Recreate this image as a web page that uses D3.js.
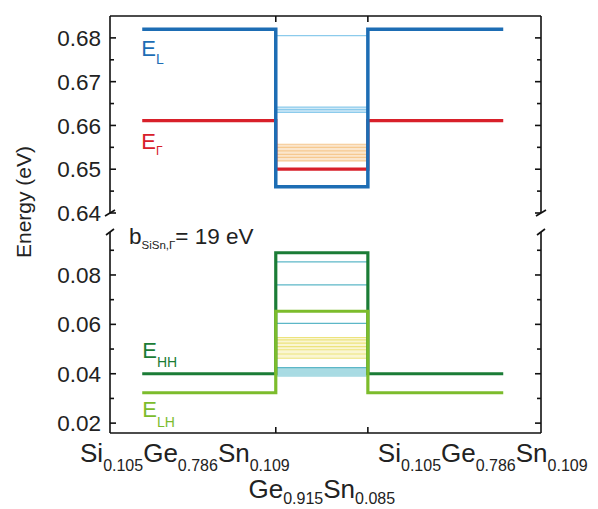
<!DOCTYPE html>
<html><head><meta charset="utf-8">
<script src="https://cdn.jsdelivr.net/npm/d3@7"></script>
<style>body{margin:0;background:#fff}svg{display:block}text{font-family:"Liberation Sans",Arial,Helvetica,sans-serif}</style>
</head><body>
<script>
// ---------- data ----------
const positions = [-14.5, 0, 10, 24.7];          // barrier start, well start, well end, barrier end (nm)
const E_L  = [0.682, 0.646];                     // [barrier, well]
const E_G  = [0.6611, 0.650];
const E_HH = [0.040, 0.089];
const E_LH = [0.0323, 0.0653];
const lightBlueLevels = [0.6805, 0.6642, 0.6636, 0.6630];
const orangeLevels = [0.6557, 0.6550, 0.6542, 0.6534, 0.6527, 0.6519];
const tealLevels = [0.0853, 0.0760, 0.0604, 0.0425];
const tealBandLevels = [0.0418, 0.0411, 0.0404, 0.0397, 0.0390];
const yellowLevels = [0.0547, 0.0537, 0.0524, 0.0510, 0.0497, 0.0480, 0.0463];
const topTicks = [0.64, 0.645, 0.65, 0.655, 0.66, 0.665, 0.67, 0.675, 0.68];
const topTickLabels = ["0.64", "0.65", "0.66", "0.67", "0.68"];
const botTicks = [0.02, 0.03, 0.04, 0.05, 0.06, 0.07, 0.08, 0.09];
const botTickLabels = ["0.02", "0.04", "0.06", "0.08"];
const barrierLabel = [["Si",0],["0.105",1],["Ge",0],["0.786",1],["Sn",0],["0.109",1]];
const wellLabel = [["Ge",0],["0.915",1],["Sn",0],["0.085",1]];

// ---------- layout ----------
const W = 598, H = 509;
const svg = d3.select("body").append("svg").attr("width", W).attr("height", H);
const x = d3.scaleLinear().domain([-18, 28.8]).range([110, 541]);
const yT = d3.scaleLinear().domain([0.64, 0.685]).range([213, 16]);
const yB = d3.scaleLinear().domain([0.016, 0.097]).range([433, 233]);
const X0 = x.range()[0], X1 = x.range()[1];

const C = {blue:"#1d6db4", lblue:"#8ccbec", red:"#d8202a", orange:"#f6c990",
  dgreen:"#1b7c36", lgreen:"#7cbc2c", teal:"#5db7c7", tealFill:"#a9dbe3", yellow:"#ece37c"};

// ---------- sub-band levels inside the well ----------
function levels(data, y, color, w) {
  svg.append("g").selectAll("line").data(data).join("line")
    .attr("x1", x(positions[1])).attr("x2", x(positions[2]))
    .attr("y1", d => y(d)).attr("y2", d => y(d))
    .attr("stroke", color).attr("stroke-width", w);
}
function band(lo, hi, y, color, op) {
  svg.append("rect").attr("x", x(positions[1])).attr("width", x(positions[2]) - x(positions[1]))
    .attr("y", y(hi)).attr("height", y(lo) - y(hi)).attr("fill", color).attr("opacity", op);
}
band(d3.min(orangeLevels), d3.max(orangeLevels), yT, "#fbe6cc", 1);
band(lightBlueLevels[3], lightBlueLevels[1], yT, "#cfe9f7", 1);
band(d3.min(yellowLevels), d3.max(yellowLevels), yB, "#faf6d2", 1);
band(d3.min(tealBandLevels), tealLevels[3], yB, C.tealFill, 1);
levels(orangeLevels, yT, C.orange, 1.1);
levels(lightBlueLevels, yT, C.lblue, 1.3);
levels(yellowLevels, yB, C.yellow, 1.1);
levels(tealBandLevels, yB, C.tealFill, 1.2);
levels(tealLevels, yB, C.teal, 1.3);

// ---------- band edges ----------
const line = d3.line();
function edge(E, y, color, w) {
  const p = [[x(positions[0]), y(E[0])], [x(positions[1]), y(E[0])], [x(positions[1]), y(E[1])],
             [x(positions[2]), y(E[1])], [x(positions[2]), y(E[0])], [x(positions[3]), y(E[0])]];
  svg.append("path").attr("d", line(p)).attr("fill", "none").attr("stroke", color)
    .attr("stroke-width", w).attr("stroke-linejoin", "miter");
}
edge(E_G, yT, C.red, 3.2);
edge(E_L, yT, C.blue, 3.5);
edge(E_HH, yB, C.dgreen, 3.2);
edge(E_LH, yB, C.lgreen, 3.2);

// ---------- frame / axes ----------
const ax = svg.append("g").attr("stroke", "#111").attr("stroke-width", 1.6).attr("fill", "none");
ax.append("line").attr("x1", X0).attr("x2", X1).attr("y1", 16).attr("y2", 16);
ax.append("line").attr("x1", X0).attr("x2", X1).attr("y1", 433).attr("y2", 433);
[X0, X1].forEach(xx => {
  ax.append("line").attr("x1", xx).attr("x2", xx).attr("y1", 16).attr("y2", 213);
  ax.append("line").attr("x1", xx).attr("x2", xx).attr("y1", 232).attr("y2", 433);
  ax.append("line").attr("x1", xx - 5).attr("x2", xx + 5).attr("y1", 216).attr("y2", 210);
  ax.append("line").attr("x1", xx - 4).attr("x2", xx + 4).attr("y1", 235).attr("y2", 229);
});
function yticks(ticks, y) {
  ticks.forEach((t, i) => {
    const len = i % 2 === 0 ? 6 : 4;
    ax.append("line").attr("x1", X0).attr("x2", X0 + len).attr("y1", y(t)).attr("y2", y(t));
    ax.append("line").attr("x1", X1).attr("x2", X1 - len).attr("y1", y(t)).attr("y2", y(t));
  });
}
yticks(topTicks, yT);
yticks(botTicks, yB);
[positions[1], positions[2]].forEach(p => {
  ax.append("line").attr("x1", x(p)).attr("x2", x(p)).attr("y1", 16).attr("y2", 22);
  ax.append("line").attr("x1", x(p)).attr("x2", x(p)).attr("y1", 433).attr("y2", 427);
});
const tl = svg.append("g").attr("font-size", 22.5).attr("fill", "#222").attr("text-anchor", "end");
topTickLabels.forEach(s => tl.append("text").attr("x", X0 - 9).attr("y", yT(+s)).attr("dy", "0.36em").text(s));
botTickLabels.forEach(s => tl.append("text").attr("x", X0 - 9).attr("y", yB(+s)).attr("dy", "0.36em").text(s));

svg.append("text").attr("transform", "translate(31,202) rotate(-90)").attr("text-anchor", "middle")
  .attr("font-size", 21).attr("fill", "#222").text("Energy (eV)");

// ---------- rich text helper ----------
function rich(xx, yy, parts, opt) {
  const t = svg.append("text").attr("x", xx).attr("y", yy).attr("fill", opt.color)
    .attr("text-anchor", opt.anchor || "start");
  let prev = 0;
  parts.forEach(([s, sub]) => {
    const dy = sub && !prev ? opt.shift : (!sub && prev ? -opt.shift : 0);
    t.append("tspan").attr("dy", dy).attr("font-size", sub ? opt.sub : opt.main).text(s);
    prev = sub;
  });
  return t;
}
rich(x(positions[1]) + 14, 462, barrierLabel, {color:"#222", main:26, sub:16, shift:9, anchor:"end"});
rich(x(positions[2]) + 10, 462, barrierLabel, {color:"#222", main:26, sub:16, shift:9});
rich((x(positions[1]) + x(positions[2])) / 2, 498, wellLabel, {color:"#222", main:26, sub:16, shift:6, anchor:"middle"});

rich(x(positions[0]) - 1, yT(E_L[0]) + 27, [["E",0],["L",1]], {color:C.blue, main:22, sub:14, shift:8});
rich(x(positions[0]) - 1, yT(E_G[0]) + 28, [["E",0],["Γ",1]], {color:C.red, main:22, sub:12, shift:6});
rich(x(positions[0]), yB(E_HH[0]) - 16, [["E",0],["HH",1]], {color:C.dgreen, main:22, sub:14, shift:9});
rich(x(positions[0]), yB(E_LH[0]) + 24, [["E",0],["LH",1]], {color:C.lgreen, main:22, sub:14, shift:10});
rich(X0 + 19, 244, [["b",0],["SiSn,Γ",1],["= 19 eV",0]], {color:"#222", main:22.5, sub:11.5, shift:5});
</script>
</body></html>
